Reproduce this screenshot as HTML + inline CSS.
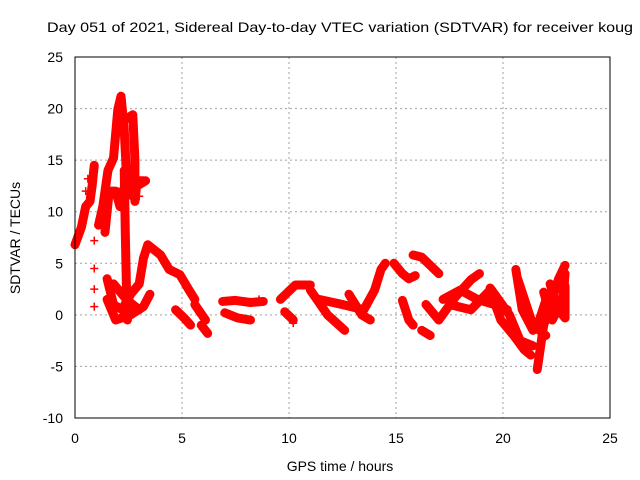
<!DOCTYPE html>
<html><head><meta charset="utf-8"><style>
body{margin:0;background:#fff;}
svg{display:block;font-family:"Liberation Sans",sans-serif;}
</style></head><body>
<svg id="c" width="640" height="480">
<text x="340" y="32" text-anchor="middle" font-size="14" textLength="586" lengthAdjust="spacingAndGlyphs">Day 051 of 2021, Sidereal Day-to-day VTEC variation (SDTVAR) for receiver koug</text>
<text x="0" y="0" transform="translate(20,238) rotate(-90)" text-anchor="middle" font-size="14">SDTVAR / TECUs</text>
<text x="340" y="471" text-anchor="middle" font-size="14">GPS time / hours</text>
<g id="grid"></g><g id="marks"></g><g id="frame"></g>
</svg>
<script>
const xTicks=[0,5,10,15,20,25];
const yTicks=[-10,-5,0,5,10,15,20,25];
// tracks of [hour, SDTVAR]
const track1=[[0,6.8],[0.3,8.5],[0.5,10.5],[0.7,11],[0.8,12.5],[0.9,14.5]];
const track2=[[1.1,8.7],[1.3,10.5],[1.54,14],[1.8,15.2],[2.0,19.9],[2.15,21.2],[2.3,18],[2.45,11.6],[2.6,13]];
const track3=[[2.4,19],[2.7,19.4],[2.8,15],[2.8,11],[2.9,13],[3.2,13]];
const track4=[[2.3,14],[2.35,8],[2.4,3],[2.45,-0.5]];
const track5=[[1.5,3.5],[1.8,1],[2.2,0.5],[2.6,2],[3.0,3],[3.2,5.5],[3.4,6.8],[3.7,6.3],[4.0,5.8],[4.4,4.4],[4.9,3.9],[5.3,2.5],[5.6,1.5]];
const track6=[[1.8,3],[2.4,1.5],[3.0,0.5]];
const track7=[[4.7,0.5],[5.1,-0.3],[5.4,-1]];
const track8=[[5.6,1],[6.1,-0.5]];
const track9=[[6.9,1.3],[7.5,1.4],[8.2,1.2],[8.8,1.3]];
const track10=[[7,0.2],[7.6,-0.3],[8.2,-0.5]];
const track11=[[9.6,1.5],[10.3,2.9],[11,2.9]];
const track12=[[9.8,0.3],[10.2,-0.5]];
const track13=[[11,2.4],[11.8,0],[12.6,-1.5]];
const track14=[[11.4,1.5],[12.5,1],[13.5,0.5],[14,2.4],[14.3,4.4],[14.5,5]];
const track15=[[14.9,5],[15.3,4],[15.6,3.5],[15.9,3.8]];
const track16=[[15.8,5.8],[16.2,5.6],[16.6,4.8],[17,4]];
const track17=[[15.3,1.4],[15.6,-0.5],[15.8,-1]];
const track18=[[16.2,-1.5],[16.6,-2]];
const track19=[[16.4,1],[17,-0.5],[17.8,1.8],[18.5,3.4],[18.9,4]];
const track20=[[17.5,1],[18.5,0.5],[19.4,2.4],[19.9,-0.5],[20.5,-2],[21,-3.4],[21.3,-3.9]];
const track21=[[19.4,2.6],[20.3,0],[20.8,-2.5],[21.4,-3]];
const track22=[[20.6,4.4],[20.9,0.5],[21.4,-1.5],[21.7,-0.5],[22,1.4],[22.3,0]];
const track23=[[20.7,3.4],[21.4,-1],[22,-2]];
const track24=[[21.6,-5.3],[21.9,-1],[22.3,1.5],[22.6,3.5],[22.9,4.8]];
const track25=[[22.2,3],[22.6,0.5],[22.9,-0.3],[22.9,2.8]];
const track26=[[1.5,1.5],[1.9,-0.5],[2.6,0],[3.2,0.8],[3.5,2]];
const track27=[[1.4,8],[1.6,12],[1.9,12],[2.1,10.5],[2.2,12]];
const track28=[[2.5,13.5],[2.7,11.5],[2.9,12.5],[3.3,13]];
const track29=[[17.2,1.5],[18,2.4],[18.8,1.5],[19.6,1],[20.2,0.5]];
const track30=[[21.9,2.2],[22.3,-0.5],[22.8,1.5],[22.9,4]];
const track31=[[5.9,-1],[6.2,-1.8]];
const track32=[[12.8,2],[13.4,0],[13.8,-0.5]];
const isolated=[[0.9,7.2],[0.9,4.5],[0.9,2.5],[0.9,0.8],[0.5,12],[0.6,13.2],[1.2,9.6],[2.6,12],[3.0,11.5],[6.2,-1.8],[10.2,-0.8],[8.6,1.5]];
const tracks=[track1,track2,track3,track4,track5,track6,track7,track8,track9,track10,track11,track12,track13,track14,track15,track16,track17,track18,track19,track20,track21,track22,track23,track24,track25,track26,track27,track28,track29,track30,track31,track32];

const L=75,R=610,T=57,B=418;
const xs=t=>L+(t-0)/25*(R-L);
const ys=v=>B-(v+10)/35*(B-T);
const NS="http://www.w3.org/2000/svg";
function mk(tag,parent){const e=document.createElementNS(NS,tag);parent.appendChild(e);return e;}
const grid=document.getElementById('grid'),marks=document.getElementById('marks'),frame=document.getElementById('frame');
xTicks.forEach(t=>{
  if(t>0&&t<25){const g=mk('line',grid);g.setAttribute('x1',xs(t));g.setAttribute('x2',xs(t));g.setAttribute('y1',T);g.setAttribute('y2',B);g.setAttribute('stroke','#a0a0a0');g.setAttribute('stroke-dasharray','2,3');
  
  }
  const tx=mk('text',frame);tx.setAttribute('x',xs(t));tx.setAttribute('y',443);tx.setAttribute('text-anchor','middle');tx.setAttribute('font-size','14');tx.textContent=t;
  
  
});
yTicks.forEach(v=>{
  if(v>-10&&v<25){const g=mk('line',grid);g.setAttribute('x1',L);g.setAttribute('x2',R);g.setAttribute('y1',ys(v));g.setAttribute('y2',ys(v));g.setAttribute('stroke','#a0a0a0');g.setAttribute('stroke-dasharray','2,3');
  
  }
  const tx=mk('text',frame);tx.setAttribute('x',63);tx.setAttribute('y',ys(v)+5);tx.setAttribute('text-anchor','end');tx.setAttribute('font-size','14');tx.textContent=v;
  
  
});
const fr=mk('rect',frame);fr.setAttribute('x',L);fr.setAttribute('y',T);fr.setAttribute('width',R-L);fr.setAttribute('height',B-T);fr.setAttribute('fill','none');fr.setAttribute('stroke','#000');


function plus(t,v){const p=mk('path',marks);const x=xs(t),y=ys(v);p.setAttribute('d',`M${x-4},${y}H${x+4}M${x},${y-4}V${y+4}`);p.setAttribute('stroke','#f00');p.setAttribute('stroke-width','1.5');
  
  }
tracks.forEach(tr=>{
  const pl=mk('polyline',marks);pl.setAttribute('points',tr.map(p=>xs(p[0])+','+ys(p[1])).join(' '));pl.setAttribute('fill','none');pl.setAttribute('stroke','#f00');pl.setAttribute('stroke-width','9');pl.setAttribute('stroke-linejoin','round');pl.setAttribute('stroke-linecap','round');
  
  
  tr.forEach(p=>plus(p[0],p[1]));
});
isolated.forEach(p=>plus(p[0],p[1]));
</script>
</body></html>
